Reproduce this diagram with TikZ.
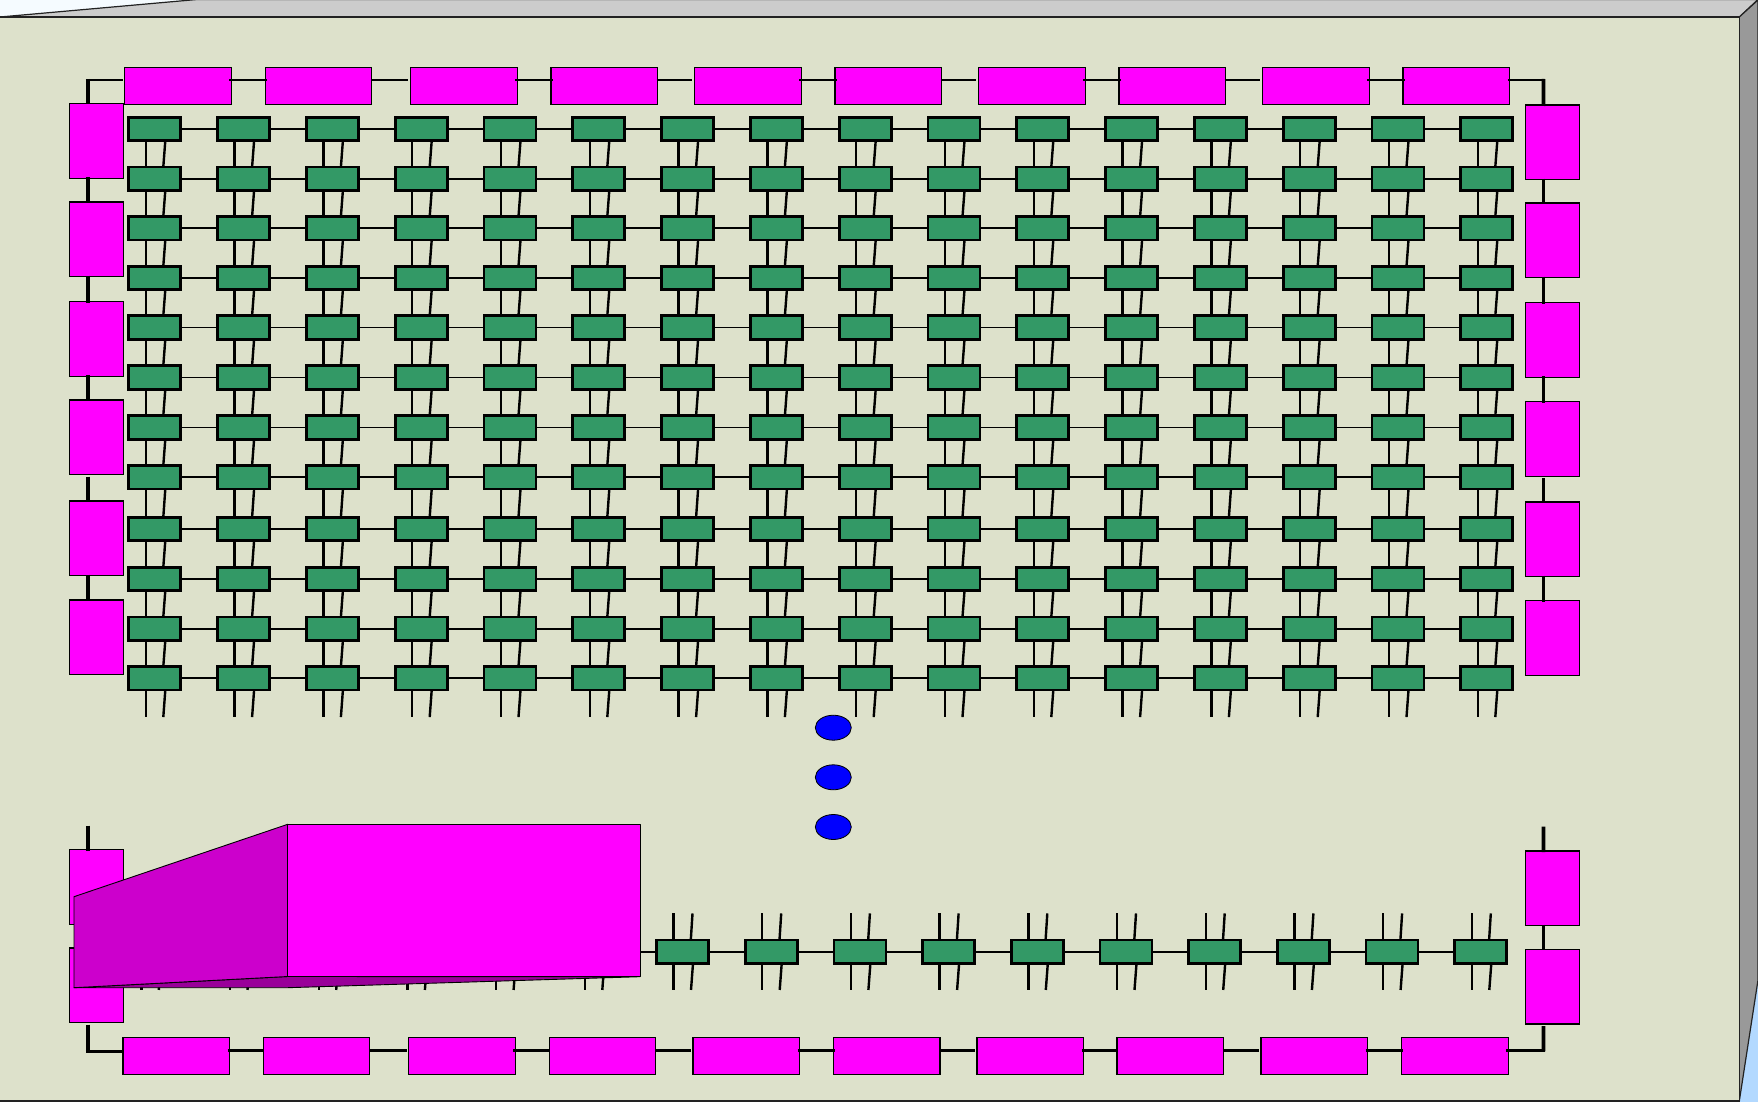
\documentclass[tikz,border=0pt]{standalone}
\usetikzlibrary{shapes.geometric}
\definecolor{facec}{HTML}{DDE1CB}
\definecolor{topc}{HTML}{CCCCCC}
\definecolor{sidec}{HTML}{999999}
\definecolor{cornerA}{HTML}{F5FBFF}
\definecolor{cornerB}{HTML}{B3D9FF}
\definecolor{greenc}{HTML}{339966}
\definecolor{mag}{HTML}{FF00FF}
\definecolor{magside}{HTML}{CC00CC}
\definecolor{magbot}{HTML}{990099}
\definecolor{edgec}{HTML}{222222}
\tikzset{
  panel/.style={draw=edgec,line width=1.2pt,line join=miter},
  magbase/.style={draw=black,line width=1.2pt,fill=mag,inner sep=0pt,outer sep=0pt,anchor=north west},
  maghoriz/.style={magbase,minimum width=106.5pt,minimum height=37pt},
  magvert/.style={magbase,minimum width=53.5pt,minimum height=74.7pt},
  gbox/.style={draw=black,line width=2.7pt,fill=greenc,inner sep=0pt,outer sep=0pt,minimum width=52pt,minimum height=23.5pt},
  bluedot/.style={ellipse,draw=black,line width=0.8pt,fill=blue,inner sep=0pt,outer sep=0pt,minimum width=36pt,minimum height=25pt},
  hlink/.style={line width=1.7pt,black},
  vlink/.style={line width=2.4pt,black},
  buslink/.style={line width=2.6pt,black},
  thicklink/.style={line width=3.8pt,black},
  boxface/.style={draw=black,line width=0.9pt,line join=round}
}
\begin{document}
\begin{tikzpicture}[x=1pt,y=-1pt]
\useasboundingbox (0,0) rectangle (1758,1102);
% backdrop corners
\fill[cornerA] (0,0) rectangle (200,20);
\fill[cornerB] (1730,960) rectangle (1758,1102);
% housing
\filldraw[panel,fill=topc] (0,17) -- (197,-0.5) -- (1758,-0.5) -- (1739.3,17) -- cycle;
\filldraw[panel,fill=sidec] (1739.3,17) -- (1758,0) -- (1758,980) -- (1739.3,1101) -- cycle;
\filldraw[panel,fill=facec] (-2,17) rectangle (1739.3,1101);
% magenta boxes
\foreach \x [count=\i] in {124.6,265.3,410.6,551,694.6,835,978.6,1119,1262.6,1403}
  \node[maghoriz] (t\i) at (\x,67.5) {};
\foreach \x [count=\i] in {123,263.3,408.6,549.3,693,833.5,977,1117,1261,1401.8}
  \node[maghoriz] (b\i) at (\x,1037.7) {};
\foreach \y [count=\i] in {103.5,202,301.5,400,501,600,849.7,948}
  \node[magvert] (l\i) at (69.6,\y) {};
\foreach \y [count=\i] in {105,203,302.5,401.5,502,600.5,851,949.3}
  \node[magvert] (r\i) at (1525.7,\y) {};
% green grid
\foreach \y [count=\r] in {129,178.7,228.3,278,327.5,377.5,427.5,477.3,529,579,628.7,678.3}
  \foreach \c in {1,...,16}
    \node[gbox] (g-\r-\c) at ({154.8+88.8*(\c-1)},\y) {};
\foreach \r in {1,...,12}
  \foreach \c in {1,...,15}{
    \pgfmathtruncatemacro{\nc}{\c+1}
    \draw[hlink] (g-\r-\c) -- (g-\r-\nc);
  }
\foreach \r in {1,...,11}
  \foreach \c in {1,...,16}{
    \pgfmathtruncatemacro{\nr}{\r+1}
    \draw[vlink] ([xshift=-9pt]g-\r-\c.south) -- ([xshift=-9pt]g-\nr-\c.north);
    \draw[vlink] ([xshift=10.5pt]g-\r-\c.south) -- ([xshift=8.5pt]g-\nr-\c.north);
  }
\foreach \c in {1,...,16}{
  \coordinate (sa\c) at ([xshift=-9pt,yshift=-27pt]g-12-\c.south);
  \coordinate (sb\c) at ([xshift=8.5pt,yshift=-27pt]g-12-\c.south);
  \draw[vlink] ([xshift=-9pt]g-12-\c.south) -- (sa\c);
  \draw[vlink] ([xshift=10.5pt]g-12-\c.south) -- (sb\c);
}
% lower green row
\foreach \c in {1,...,16}{
  \node[gbox] (k\c) at ({150.3+88.7*(\c-1)},951.7) {};
  \coordinate (ua\c) at ([xshift=-9pt,yshift=26.5pt]k\c.north);
  \coordinate (ub\c) at ([xshift=10pt,yshift=26.5pt]k\c.north);
  \coordinate (da\c) at ([xshift=-9pt,yshift=-26.5pt]k\c.south);
  \coordinate (db\c) at ([xshift=8.5pt,yshift=-26.5pt]k\c.south);
  \draw[vlink] ([xshift=-9pt]k\c.north) -- (ua\c);
  \draw[vlink] ([xshift=8.3pt]k\c.north) -- (ub\c);
  \draw[vlink] ([xshift=-9pt]k\c.south) -- (da\c);
  \draw[vlink] ([xshift=10.5pt]k\c.south) -- (db\c);
}
\foreach \c in {1,...,15}{
  \pgfmathtruncatemacro{\nc}{\c+1}
  \draw[hlink] (k\c) -- (k\nc);
}
% bus along the top and bottom rows
\foreach \a/\b in {1/2,3/4,5/6,7/8,9/10}{
  \draw[buslink,shorten <=-2pt,shorten >=-2pt] ([yshift=-12.5pt]t\a.north east) -- ([yshift=-12.5pt]t\b.north west);
  \draw[buslink,shorten <=-2pt,shorten >=-1pt] ([yshift=-12.5pt]b\a.north east) -- ([yshift=-12.5pt]b\b.north west);
}
\foreach \a/\b in {2/3,4/5,6/7,8/9}{
  \draw[buslink,shorten <=-1pt,shorten >=2.8pt] ([yshift=-12.5pt]t\a.north east) -- ([yshift=-12.5pt]t\b.north west);
  \draw[buslink,shorten <=-1pt,shorten >=1.8pt] ([yshift=-12.5pt]b\a.north east) -- ([yshift=-12.5pt]b\b.north west);
}
% bus along the sides
\foreach \a/\b in {1/2,2/3,3/4,5/6,7/8}{
  \draw[thicklink,shorten <=-1pt,shorten >=-1pt] ([xshift=-8.6pt]l\a.south) -- ([xshift=-8.6pt]l\b.north);
  \draw[thicklink,shorten <=-1pt,shorten >=-1pt] ([xshift=-9pt]r\a.south) -- ([xshift=-9pt]r\b.north);
}
\draw[thicklink,shorten <=2pt,shorten >=-1pt] ([xshift=-8.6pt]l4.south) -- ([xshift=-8.6pt]l5.north);
\draw[thicklink,shorten <=2pt,shorten >=-1pt] ([xshift=-9pt]r4.south) -- ([xshift=-9pt]r5.north);
% corners
\coordinate (cTL) at (87.75,80);
\coordinate (cTR) at (1543.5,80);
\coordinate (cBL) at (87.75,1051.5);
\coordinate (cBR) at (1543.5,1050.3);
\coordinate (fL) at (87.75,825.7);
\coordinate (fR) at (1543.5,826.7);
\coordinate (eT) at (122.5,80);
\draw[buslink] ([xshift=-1.9pt]cTL) -- (eT);
\draw[thicklink,shorten >=-1pt] ([yshift=1pt]cTL) -- ([xshift=-8.6pt]l1.north);
\draw[buslink,shorten <=-2pt] ([yshift=-12.5pt]t10.north east) -- ([xshift=1.9pt]cTR);
\draw[thicklink,shorten >=-1pt] ([yshift=1pt]cTR) -- ([xshift=-9pt]r1.north);
\draw[thicklink,shorten >=-1pt] (fL) -- ([xshift=-8.6pt]l7.north);
\draw[thicklink,shorten >=-1pt] (fR) -- ([xshift=-9pt]r7.north);
\draw[thicklink,shorten <=2pt] ([xshift=-8.6pt]l8.south) -- ([yshift=-1pt]cBL);
\draw[thicklink,shorten <=2pt] ([xshift=-9pt]r8.south) -- ([yshift=-1pt]cBR);
\draw[buslink] ([xshift=-1.9pt]cBL) -- ([yshift=-13.8pt]b1.north west);
\draw[buslink,shorten <=-2pt] ([yshift=-12.6pt]b10.north east) -- ([xshift=1.9pt]cBR);
% dots
\node[bluedot] (d1) at (833.3,727.7) {};
\node[bluedot] (d2) at (833.3,777.3) {};
\node[bluedot] (d3) at (833.3,827) {};
% large box
\filldraw[boxface,fill=magbot] (74,987.7) -- (287.7,976.5) -- (640,976.7) -- (287.7,987.7) -- cycle;
\filldraw[boxface,fill=magside] (74,896.7) -- (287.7,824.3) -- (287.7,976.5) -- (74,987.7) -- cycle;
\filldraw[boxface,fill=mag] (287.7,824.3) rectangle (640,976.7);
\end{tikzpicture}
\end{document}
